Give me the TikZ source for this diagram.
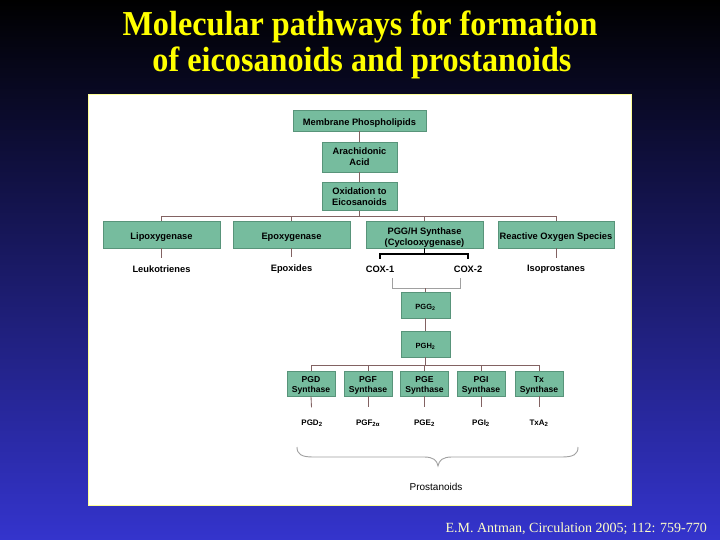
\documentclass[tikz,border=0pt]{standalone}
\usepackage{fontspec}
\setmainfont{Liberation Serif}
\newfontfamily\sansf{Liberation Sans}
\usetikzlibrary{calc}
\definecolor{bgtop}{RGB}{0,0,0}
\definecolor{bgbot}{RGB}{52,52,205}
\definecolor{boxfill}{RGB}{118,188,158}
\definecolor{boxline}{RGB}{88,148,122}
\definecolor{connc}{RGB}{130,98,98}
\definecolor{ttlc}{RGB}{255,255,0}
\definecolor{citec}{RGB}{255,255,200}
\definecolor{panelb}{RGB}{255,255,150}
\definecolor{lbrkc}{RGB}{160,160,160}
\newcommand\myupA{\rule{0pt}{12.5pt}}
\newcommand\myupB{\rule{0pt}{10.2pt}}
\begin{document}
\begin{tikzpicture}[x=1pt,y=-1pt,
  basebox/.style={draw=boxline, line width=0.6pt, fill=boxfill, inner sep=0pt, align=center, text=black,
    font=\sansf\bfseries\fontsize{9.3}{10.8}\selectfont},
  box/.style={basebox, execute at begin node={\rule{0pt}{11.8pt}}},
  boxtwo/.style={basebox},
  sbox/.style={basebox, font=\sansf\bfseries\fontsize{8.6}{9.5}\selectfont, minimum width=48pt, minimum height=25pt},
  pbox/.style={basebox, font=\sansf\bfseries\fontsize{7.5}{9}\selectfont, minimum width=49pt, minimum height=26pt,
    execute at begin node={\rule{0pt}{10pt}}},
  lbl/.style={inner sep=1pt, text=black, font=\sansf\bfseries\fontsize{9.3}{10.8}\selectfont},
  prod/.style={inner sep=1pt, text=black, font=\sansf\bfseries\fontsize{8}{9}\selectfont},
  conn/.style={draw=connc, line width=0.85pt},
  brk/.style={draw=black, line width=1.6pt},
  lbrk/.style={draw=lbrkc, line width=0.8pt},
  ttl/.style={text=ttlc, inner sep=0pt, anchor=base, font=\bfseries\fontsize{35}{40}\selectfont, xscale=0.92}
]
\useasboundingbox (0,0) rectangle (720,540);
\shade[top color=bgtop, bottom color=bgbot] (0,0) rectangle (720,540);

% title
\node[ttl] (t1) at (360,36) {Molecular pathways for formation};
\node[ttl] (t2) at (362,72) {of eicosanoids and prostanoids};

% panel
\draw[panelb, fill=white, line width=1pt] (88.5,94.5) rectangle (631.5,505.5);

% top chain
\node[box, minimum width=133pt, minimum height=21pt] (memb) at (359.5,120.5) {Membrane Phospholipids};
\node[boxtwo, minimum width=75pt, minimum height=30pt] (arach) at (359.5,157) {Arachidonic\\Acid};
\node[boxtwo, minimum width=75pt, minimum height=28pt] (oxid) at (359.5,196.5) {Oxidation to\\Eicosanoids};
\draw[conn] (memb) -- (arach);
\draw[conn] (arach) -- (oxid);

% enzymes
\node[box, minimum width=117pt, minimum height=27pt] (lipo) at (161.5,234.5) {Lipoxygenase};
\node[box, minimum width=117pt, minimum height=27pt] (epox) at (291.5,234.5) {Epoxygenase};
\node[boxtwo, minimum width=117pt, minimum height=27pt] (pgh) at (424.5,234.5) {\myupA PGG/H Synthase\\(Cyclooxygenase)};
\node[box, minimum width=116pt, minimum height=27pt] (ros) at (556,234.5) {Reactive Oxygen Species};

\coordinate (busy) at (0,216);
\draw[conn] (oxid.south) -- (oxid.south |- busy);
\draw[conn] (lipo.north) -- (lipo.north |- busy) -- (ros.north |- busy) -- (ros.north);
\draw[conn] (epox.north) -- (epox.north |- busy);
\draw[conn] (pgh.north) -- (pgh.north |- busy);

% products of enzymes
\node[lbl] (leuk) at (161.5,269) {Leukotrienes};
\node[lbl] (epoxd) at (291.5,269) {Epoxides};
\node[lbl] (cox1) at (380,269) {COX-1};
\node[lbl] (cox2) at (468,269) {COX-2};
\node[lbl] (iso) at (556,269) {Isoprostanes};
\draw[conn, shorten >=6pt] (lipo.south) -- (leuk.north);
\draw[conn, shorten >=6pt] (epox.south) -- (epoxd.north);
\draw[conn, shorten >=6pt] (ros.south) -- (iso.north);

% COX bracket
\coordinate (uby) at (0,254);
\draw[brk] (pgh.south) -- (pgh.south |- uby);
\draw[brk] ($(cox1.north)+(0,-6)$) -- (cox1.north |- uby) -- (cox2.north |- uby) -- ($(cox2.north)+(0,-6)$);

% lower bracket to PGG2
\node[pbox] (pgg2) at (425.5,305) {PGG\textsubscript{2}};
\node[pbox] (pgh2) at (425.5,344) {PGH\textsubscript{2}};
\coordinate (lb1) at (392,278);
\coordinate (lb2) at (460,278);
\coordinate (lby) at (0,288);
\draw[lbrk] (lb1) -- (lb1 |- lby) -- (lb2 |- lby) -- (lb2);
\draw[conn] (pgg2.north |- lby) -- (pgg2.north);
\draw[conn] (pgg2) -- (pgh2);

% synthases
\node[sbox] (pgd) at (311,383.5) {\myupB PGD\\Synthase};
\node[sbox] (pgf) at (368,383.5) {\myupB PGF\\Synthase};
\node[sbox] (pge) at (424.5,383.5) {\myupB PGE\\Synthase};
\node[sbox] (pgi) at (481,383.5) {\myupB PGI\\Synthase};
\node[sbox] (tx) at (539,383.5) {\myupB Tx\\Synthase};
\coordinate (pbus) at (0,365);
\draw[conn] (pgh2.south) -- (pgh2.south |- pbus);
\draw[conn] (pgd.north) -- (pgd.north |- pbus) -- (tx.north |- pbus) -- (tx.north);
\draw[conn] (pgf.north) -- (pgf.north |- pbus);
\draw[conn] (pge.north) -- (pge.north |- pbus);
\draw[conn] (pgi.north) -- (pgi.north |- pbus);

% prostanoids
\node[prod] (pgd2) at (312,423) {PGD\textsubscript{2}};
\node[prod] (pgf2) at (368,423) {PGF\textsubscript{2α}};
\node[prod] (pge2) at (424.5,423) {PGE\textsubscript{2}};
\node[prod] (pgi2) at (481,423) {PGI\textsubscript{2}};
\node[prod] (txa2) at (539,423) {TxA\textsubscript{2}};
\draw[conn, shorten >=11pt] (pgd.south) -- (pgd2.north);
\draw[conn, shorten >=11pt] (pgf.south) -- (pgf2.north);
\draw[conn, shorten >=11pt] (pge.south) -- (pge2.north);
\draw[conn, shorten >=11pt] (pgi.south) -- (pgi2.north);
\draw[conn, shorten >=11pt] (tx.south) -- (txa2.north);

% brace
\draw[lbrk, line width=0.9pt] (297,447) .. controls (297,454) and (301,457) .. (313,457)
  -- (424,457) .. controls (433,457) and (437,460) .. (438,466)
  .. controls (439,460) and (443,457) .. (452,457)
  -- (562,457) .. controls (574,457) and (578,454) .. (578,447);
\node[inner sep=0pt, text=black, font=\sansf\fontsize{10}{12}\selectfont] (pros) at (436,487) {Prostanoids};

% citation
\node[anchor=base east, inner sep=0pt, text=citec, font=\fontsize{14}{16}\selectfont] (cite) at (707,532) {E.M. Antman, Circulation 2005; 112: 759-770};
\end{tikzpicture}
\end{document}
